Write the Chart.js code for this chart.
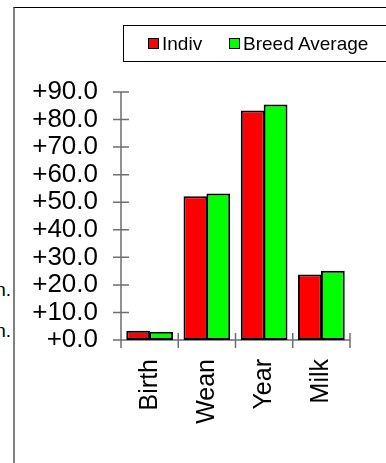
<!DOCTYPE html>
<html>
<head>
<meta charset="utf-8">
<script src="https://cdn.jsdelivr.net/npm/chart.js@4"></script>
<style>
  html, body { margin: 0; padding: 0; background: #fff; }
  body { width: 386px; height: 463px; position: relative; overflow: hidden; font-family: "Liberation Sans", Arial, sans-serif; }
  #frame { position: absolute; left: 13px; top: 7px; width: 400px; height: 500px; border-left: 2px solid #808080; border-top: 1px solid #000; }
  #chart { position: absolute; left: 0; top: 0; }
  #legend { position: absolute; left: 123px; top: 25px; width: 300px; height: 35px; border: 1px solid #000; }
  .item { position: absolute; top: 0; height: 35px; line-height: 35px; font-size: 19px; color: #000; white-space: nowrap; }
  .swatch { position: absolute; top: 12px; width: 9px; height: 9px; border: 1.5px solid #000; }
  .cut { position: absolute; right: 375px; font-size: 19px; line-height: 19px; white-space: nowrap; }
</style>
</head>
<body>
<div id="frame"></div>
<div class="cut" style="top:280px">n.</div>
<div class="cut" style="top:321px">n.</div>
<canvas id="chart" width="386" height="463"></canvas>
<div id="legend"></div>
<script>
// Chart data
const categories = ["Birth", "Wean", "Year", "Milk"];
const indiv = [3.4, 52.2, 83.3, 23.8];
const breedAverage = [3.0, 53.2, 85.5, 25.1];
const yTicks = [0, 10, 20, 30, 40, 50, 60, 70, 80, 90];

// Colors
const colors = {
  indiv: "#ff0000",
  breed: "#00ff00",
  border: "#000",
  axis: "#6e6e6e",
};

const seriesNames = ["Indiv", "Breed Average"];

// Axis lines with ticks crossing the axis
const crossAxes = {
  id: "crossAxes",
  beforeDatasetsDraw(chart) {
    const { ctx, chartArea, scales } = chart;
    const x = scales.x;
    const y = scales.y;
    const len = 8;
    ctx.save();
    ctx.strokeStyle = colors.axis;
    ctx.lineWidth = 1.5;
    ctx.beginPath();
    // y axis
    ctx.moveTo(chartArea.left, y.getPixelForValue(yTicks[yTicks.length - 1]));
    ctx.lineTo(chartArea.left, chartArea.bottom + len);
    yTicks.forEach((v) => {
      const py = y.getPixelForValue(v);
      ctx.moveTo(chartArea.left - len, py);
      ctx.lineTo(chartArea.left + len, py);
    });
    // x axis
    ctx.moveTo(chartArea.left - len, chartArea.bottom);
    ctx.lineTo(chartArea.right, chartArea.bottom);
    for (let i = 0; i <= categories.length; i++) {
      const px = x.getPixelForValue(i - 0.5);
      ctx.moveTo(px, chartArea.bottom - len + 1);
      ctx.lineTo(px, chartArea.bottom + len);
    }
    ctx.stroke();
    ctx.restore();
  },
};

const family = "'Liberation Sans', Arial, sans-serif";

const chart = new Chart(document.getElementById("chart"), {
  type: "bar",
  data: {
    labels: categories,
    datasets: [
      {
        label: seriesNames[0],
        data: indiv,
        backgroundColor: colors.indiv,
        borderColor: colors.border,
        borderWidth: 2,
        borderSkipped: false,
      },
      {
        label: seriesNames[1],
        data: breedAverage,
        backgroundColor: colors.breed,
        borderColor: colors.border,
        borderWidth: 2,
        borderSkipped: false,
      },
    ],
  },
  options: {
    responsive: false,
    animation: false,
    events: [],
    layout: { padding: { top: 92, left: 0, right: 36, bottom: 0 } },
    datasets: { bar: { categoryPercentage: 0.8, barPercentage: 1.04 } },
    scales: {
      x: {
        grid: { display: false },
        border: { display: false },
        ticks: {
          color: "#000",
          font: { family: family, size: 25 },
          minRotation: 90,
          maxRotation: 90,
          autoSkip: false,
          padding: 11,
        },
        afterFit: (scale) => { scale.height = 123; },
      },
      y: {
        min: 0,
        max: 90,
        grid: { display: false },
        border: { display: false },
        ticks: {
          stepSize: 10,
          autoSkip: false,
          color: "#000",
          font: { family: family, size: 26 },
          padding: 15,
          callback: (v) => "+" + Number(v).toFixed(1),
        },
        afterFit: (scale) => { scale.width = 121; },
      },
    },
    plugins: {
      legend: { display: false },
      tooltip: { enabled: false },
    },
  },
  plugins: [crossAxes],
});

// Legend box
const legend = document.getElementById("legend");
const legendPos = [{ box: 24, text: 38 }, { box: 105, text: 119 }];
chart.data.datasets.forEach((ds, i) => {
  const sw = document.createElement("div");
  sw.className = "swatch";
  sw.style.left = legendPos[i].box + "px";
  sw.style.background = ds.backgroundColor;
  legend.appendChild(sw);
  const t = document.createElement("div");
  t.className = "item";
  t.style.left = legendPos[i].text + "px";
  t.textContent = ds.label;
  legend.appendChild(t);
});
</script>
</body>
</html>
